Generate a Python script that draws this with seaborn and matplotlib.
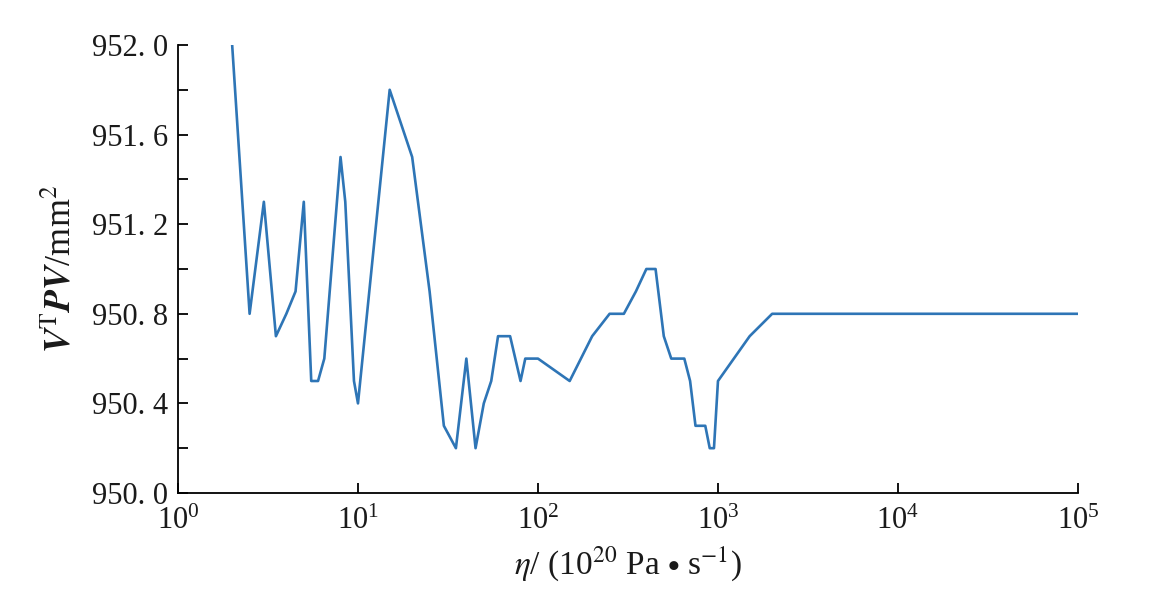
import numpy as np
import pandas as pd
import seaborn as sns
import matplotlib
matplotlib.use("Agg")
import matplotlib.pyplot as plt
from matplotlib.ticker import MultipleLocator, NullLocator, FixedLocator

# viscosity (10^20 Pa s^-1) and V^T P V (mm^2)
eta = [2, 2.5, 3, 3.5, 4, 4.5, 5, 5.5, 6, 6.5, 8, 8.5, 9.5, 10, 15, 20, 25, 30,
       35, 40, 45, 50, 55, 60, 70, 80, 85, 100, 150, 200, 250, 300, 350, 400,
       450, 500, 550, 650, 700, 750, 850, 900, 950, 1000, 1500, 2000, 5000,
       10000, 50000, 100000]
vtpv = [952.0, 950.8, 951.3, 950.7, 950.8, 950.9, 951.3, 950.5, 950.5, 950.6,
        951.5, 951.3, 950.5, 950.4, 951.8, 951.5, 950.9, 950.3, 950.2, 950.6,
        950.2, 950.4, 950.5, 950.7, 950.7, 950.5, 950.6, 950.6, 950.5, 950.7,
        950.8, 950.8, 950.9, 951.0, 951.0, 950.7, 950.6, 950.6, 950.5, 950.3,
        950.3, 950.2, 950.2, 950.5, 950.7, 950.8, 950.8, 950.8, 950.8, 950.8]

y_ticks = [950.0, 950.4, 950.8, 951.2, 951.6, 952.0]
y_ticklabels = ["950. 0", "950. 4", "950. 8", "951. 2", "951. 6", "952. 0"]

df = pd.DataFrame({"eta": eta, "vtpv": vtpv})

sns.set_theme(style="ticks")
plt.rcParams["font.family"] = ["Liberation Serif", "DejaVu Serif"]
plt.rcParams["mathtext.fontset"] = "stix"

fig = plt.figure(figsize=(11.64, 5.89), dpi=100)
ax = fig.add_axes([0.1529, 0.163, 0.7732, 0.7606])

sns.lineplot(data=df, x="eta", y="vtpv", ax=ax, color="#2e75b6",
             linewidth=1.9, estimator=None, sort=False)

ax.set_xscale("log")
ax.set_xlim(1, 1e5)
ax.set_ylim(950.0, 952.0)
ax.xaxis.set_minor_locator(NullLocator())
ax.yaxis.set_major_locator(FixedLocator(y_ticks))
ax.set_yticklabels(y_ticklabels)
ax.yaxis.set_minor_locator(MultipleLocator(0.2))

for s in ["top", "right"]:
    ax.spines[s].set_visible(False)
for s in ["left", "bottom"]:
    ax.spines[s].set_color("black")
    ax.spines[s].set_linewidth(1.3)

ax.tick_params(axis="both", which="both", direction="in", length=7,
               width=1.3, color="black", labelsize=22, labelcolor="#1a1a1a")
ax.tick_params(axis="x", pad=10)
ax.tick_params(axis="y", pad=7)

ax.set_xlabel(r"$\eta$/ (10$^{20}$ Pa $\bullet$ s$^{-1}$)", fontsize=24,
              color="#1a1a1a", labelpad=6)
ax.set_ylabel(r"$\boldsymbol{V}^{\mathrm{T}}\boldsymbol{PV}$/mm$^{2}$",
              fontsize=26, color="#1a1a1a", labelpad=10)

fig.savefig("out.png", dpi=100)
